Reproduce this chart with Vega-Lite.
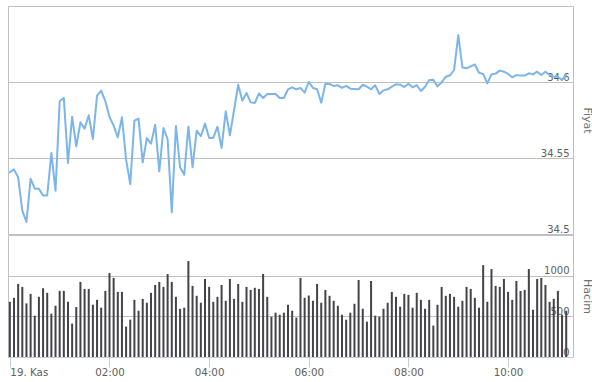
{
  "$schema": "https://vega.github.io/schema/vega-lite/v6.json",
  "padding": {"left": 7, "top": 5, "right": 0, "bottom": 0},
  "background": "white",
  "spacing": -1,
  "config": {
    "font": "DejaVu Sans",
    "view": {"stroke": "#C0C0C0"},
    "axis": {"labelOverlap": false, "labelBound": false}
  },
  "data": {"values": [
    {"t":"2024-11-19T00:00:00Z","p":34.5406,"v":679},
    {"t":"2024-11-19T00:05:00Z","p":34.5425,"v":728},
    {"t":"2024-11-19T00:10:00Z","p":34.5373,"v":898},
    {"t":"2024-11-19T00:15:00Z","p":34.5154,"v":862},
    {"t":"2024-11-19T00:20:00Z","p":34.5079,"v":659},
    {"t":"2024-11-19T00:25:00Z","p":34.5364,"v":776},
    {"t":"2024-11-19T00:30:00Z","p":34.5298,"v":508},
    {"t":"2024-11-19T00:35:00Z","p":34.5298,"v":740},
    {"t":"2024-11-19T00:40:00Z","p":34.5254,"v":846},
    {"t":"2024-11-19T00:45:00Z","p":34.5254,"v":789},
    {"t":"2024-11-19T00:50:00Z","p":34.5533,"v":533},
    {"t":"2024-11-19T00:55:00Z","p":34.5285,"v":630},
    {"t":"2024-11-19T01:00:00Z","p":34.5873,"v":813},
    {"t":"2024-11-19T01:05:00Z","p":34.5895,"v":813},
    {"t":"2024-11-19T01:10:00Z","p":34.5467,"v":679},
    {"t":"2024-11-19T01:15:00Z","p":34.5772,"v":411},
    {"t":"2024-11-19T01:20:00Z","p":34.5577,"v":614},
    {"t":"2024-11-19T01:25:00Z","p":34.5735,"v":923},
    {"t":"2024-11-19T01:30:00Z","p":34.5693,"v":837},
    {"t":"2024-11-19T01:35:00Z","p":34.5781,"v":837},
    {"t":"2024-11-19T01:40:00Z","p":34.5625,"v":642},
    {"t":"2024-11-19T01:45:00Z","p":34.591,"v":703},
    {"t":"2024-11-19T01:50:00Z","p":34.5943,"v":606},
    {"t":"2024-11-19T01:55:00Z","p":34.5873,"v":813},
    {"t":"2024-11-19T02:00:00Z","p":34.577,"v":1033},
    {"t":"2024-11-19T02:05:00Z","p":34.5713,"v":972},
    {"t":"2024-11-19T02:10:00Z","p":34.5636,"v":801},
    {"t":"2024-11-19T02:15:00Z","p":34.5768,"v":801},
    {"t":"2024-11-19T02:20:00Z","p":34.5489,"v":374},
    {"t":"2024-11-19T02:25:00Z","p":34.5329,"v":459},
    {"t":"2024-11-19T02:30:00Z","p":34.5746,"v":703},
    {"t":"2024-11-19T02:35:00Z","p":34.5759,"v":569},
    {"t":"2024-11-19T02:40:00Z","p":34.5471,"v":715},
    {"t":"2024-11-19T02:45:00Z","p":34.5632,"v":667},
    {"t":"2024-11-19T02:50:00Z","p":34.5594,"v":789},
    {"t":"2024-11-19T02:55:00Z","p":34.5719,"v":886},
    {"t":"2024-11-19T03:00:00Z","p":34.5412,"v":923},
    {"t":"2024-11-19T03:05:00Z","p":34.5697,"v":862},
    {"t":"2024-11-19T03:10:00Z","p":34.5625,"v":1020},
    {"t":"2024-11-19T03:15:00Z","p":34.5143,"v":923},
    {"t":"2024-11-19T03:20:00Z","p":34.5711,"v":740},
    {"t":"2024-11-19T03:25:00Z","p":34.5439,"v":593},
    {"t":"2024-11-19T03:30:00Z","p":34.539,"v":606},
    {"t":"2024-11-19T03:35:00Z","p":34.5706,"v":1179},
    {"t":"2024-11-19T03:40:00Z","p":34.5439,"v":874},
    {"t":"2024-11-19T03:45:00Z","p":34.568,"v":752},
    {"t":"2024-11-19T03:50:00Z","p":34.5643,"v":667},
    {"t":"2024-11-19T03:55:00Z","p":34.5726,"v":959},
    {"t":"2024-11-19T04:00:00Z","p":34.5632,"v":862},
    {"t":"2024-11-19T04:05:00Z","p":34.5632,"v":679},
    {"t":"2024-11-19T04:10:00Z","p":34.5706,"v":740},
    {"t":"2024-11-19T04:15:00Z","p":34.5566,"v":886},
    {"t":"2024-11-19T04:20:00Z","p":34.5807,"v":691},
    {"t":"2024-11-19T04:25:00Z","p":34.5649,"v":959},
    {"t":"2024-11-19T04:30:00Z","p":34.5816,"v":715},
    {"t":"2024-11-19T04:35:00Z","p":34.5982,"v":898},
    {"t":"2024-11-19T04:40:00Z","p":34.5877,"v":679},
    {"t":"2024-11-19T04:45:00Z","p":34.5928,"v":862},
    {"t":"2024-11-19T04:50:00Z","p":34.5866,"v":825},
    {"t":"2024-11-19T04:55:00Z","p":34.5862,"v":850},
    {"t":"2024-11-19T05:00:00Z","p":34.5925,"v":837},
    {"t":"2024-11-19T05:05:00Z","p":34.5895,"v":1020},
    {"t":"2024-11-19T05:10:00Z","p":34.5921,"v":740},
    {"t":"2024-11-19T05:15:00Z","p":34.5921,"v":496},
    {"t":"2024-11-19T05:20:00Z","p":34.5921,"v":545},
    {"t":"2024-11-19T05:25:00Z","p":34.5895,"v":520},
    {"t":"2024-11-19T05:30:00Z","p":34.5895,"v":545},
    {"t":"2024-11-19T05:35:00Z","p":34.5952,"v":642},
    {"t":"2024-11-19T05:40:00Z","p":34.5965,"v":569},
    {"t":"2024-11-19T05:45:00Z","p":34.5952,"v":484},
    {"t":"2024-11-19T05:50:00Z","p":34.5961,"v":972},
    {"t":"2024-11-19T05:55:00Z","p":34.593,"v":728},
    {"t":"2024-11-19T06:00:00Z","p":34.6,"v":756},
    {"t":"2024-11-19T06:05:00Z","p":34.5961,"v":691},
    {"t":"2024-11-19T06:10:00Z","p":34.5952,"v":898},
    {"t":"2024-11-19T06:15:00Z","p":34.5864,"v":667},
    {"t":"2024-11-19T06:20:00Z","p":34.5989,"v":825},
    {"t":"2024-11-19T06:25:00Z","p":34.5987,"v":752},
    {"t":"2024-11-19T06:30:00Z","p":34.5974,"v":691},
    {"t":"2024-11-19T06:35:00Z","p":34.5978,"v":630},
    {"t":"2024-11-19T06:40:00Z","p":34.5961,"v":520},
    {"t":"2024-11-19T06:45:00Z","p":34.5974,"v":459},
    {"t":"2024-11-19T06:50:00Z","p":34.5956,"v":545},
    {"t":"2024-11-19T06:55:00Z","p":34.5954,"v":654},
    {"t":"2024-11-19T07:00:00Z","p":34.5952,"v":947},
    {"t":"2024-11-19T07:05:00Z","p":34.5982,"v":593},
    {"t":"2024-11-19T07:10:00Z","p":34.5969,"v":435},
    {"t":"2024-11-19T07:15:00Z","p":34.5952,"v":935},
    {"t":"2024-11-19T07:20:00Z","p":34.5978,"v":508},
    {"t":"2024-11-19T07:25:00Z","p":34.5921,"v":496},
    {"t":"2024-11-19T07:30:00Z","p":34.5945,"v":593},
    {"t":"2024-11-19T07:35:00Z","p":34.5952,"v":667},
    {"t":"2024-11-19T07:40:00Z","p":34.5969,"v":801},
    {"t":"2024-11-19T07:45:00Z","p":34.5985,"v":740},
    {"t":"2024-11-19T07:50:00Z","p":34.5982,"v":618},
    {"t":"2024-11-19T07:55:00Z","p":34.5967,"v":776},
    {"t":"2024-11-19T08:00:00Z","p":34.5989,"v":764},
    {"t":"2024-11-19T08:05:00Z","p":34.5965,"v":606},
    {"t":"2024-11-19T08:10:00Z","p":34.598,"v":789},
    {"t":"2024-11-19T08:15:00Z","p":34.5941,"v":703},
    {"t":"2024-11-19T08:20:00Z","p":34.5969,"v":593},
    {"t":"2024-11-19T08:25:00Z","p":34.6013,"v":703},
    {"t":"2024-11-19T08:30:00Z","p":34.6015,"v":386},
    {"t":"2024-11-19T08:35:00Z","p":34.5971,"v":642},
    {"t":"2024-11-19T08:40:00Z","p":34.5998,"v":862},
    {"t":"2024-11-19T08:45:00Z","p":34.6035,"v":752},
    {"t":"2024-11-19T08:50:00Z","p":34.6044,"v":776},
    {"t":"2024-11-19T08:55:00Z","p":34.6079,"v":740},
    {"t":"2024-11-19T09:00:00Z","p":34.6309,"v":618},
    {"t":"2024-11-19T09:05:00Z","p":34.6096,"v":691},
    {"t":"2024-11-19T09:10:00Z","p":34.609,"v":862},
    {"t":"2024-11-19T09:15:00Z","p":34.6103,"v":837},
    {"t":"2024-11-19T09:20:00Z","p":34.6115,"v":728},
    {"t":"2024-11-19T09:25:00Z","p":34.6061,"v":606},
    {"t":"2024-11-19T09:30:00Z","p":34.6053,"v":1130},
    {"t":"2024-11-19T09:35:00Z","p":34.5991,"v":679},
    {"t":"2024-11-19T09:40:00Z","p":34.605,"v":1081},
    {"t":"2024-11-19T09:45:00Z","p":34.6055,"v":874},
    {"t":"2024-11-19T09:50:00Z","p":34.6075,"v":862},
    {"t":"2024-11-19T09:55:00Z","p":34.6068,"v":959},
    {"t":"2024-11-19T10:00:00Z","p":34.6053,"v":801},
    {"t":"2024-11-19T10:05:00Z","p":34.6031,"v":703},
    {"t":"2024-11-19T10:10:00Z","p":34.6046,"v":935},
    {"t":"2024-11-19T10:15:00Z","p":34.6042,"v":813},
    {"t":"2024-11-19T10:20:00Z","p":34.6042,"v":825},
    {"t":"2024-11-19T10:25:00Z","p":34.6057,"v":1081},
    {"t":"2024-11-19T10:30:00Z","p":34.605,"v":581},
    {"t":"2024-11-19T10:35:00Z","p":34.6068,"v":959},
    {"t":"2024-11-19T10:40:00Z","p":34.6046,"v":972},
    {"t":"2024-11-19T10:45:00Z","p":34.6068,"v":886},
    {"t":"2024-11-19T10:50:00Z","p":34.6046,"v":679},
    {"t":"2024-11-19T10:55:00Z","p":34.6035,"v":715},
    {"t":"2024-11-19T11:00:00Z","p":34.6033,"v":813},
    {"t":"2024-11-19T11:05:00Z","p":34.6015,"v":520},
    {"t":"2024-11-19T11:10:00Z","p":34.6046,"v":569}
  ]},
  "vconcat": [
    {
      "width": 565,
      "height": 228,
      "mark": {"type": "line", "color": "#7cb5ec", "strokeWidth": 2, "strokeJoin": "round", "strokeCap": "round"},
      "encoding": {
        "x": {"field": "t", "type": "temporal",
              "scale": {"type": "utc", "domain": [1731974266500, 1732015091000], "nice": false, "padding": 0},
              "axis": null},
        "y": {"field": "p", "type": "quantitative",
              "scale": {"domain": [34.5, 34.65], "nice": false, "zero": false},
              "axis": {"orient": "right", "values": [34.5, 34.55, 34.6],
                       "format": ".4~f",
                       "grid": true, "gridColor": "#C0C0C0", "gridWidth": 1,
                       "domain": false, "ticks": false, "tickSize": 0,
                       "labelAlign": "right", "labelPadding": -4, "labelBaseline": "alphabetic", "labelOffset": -2,
                       "labelColor": "#606060", "labelFontSize": 10,
                       "title": "Fiyat", "titleColor": "#707070", "titleFontSize": 11, "titleFontWeight": "normal",
                       "titleAngle": 90, "titleX": 13, "titleBaseline": "middle", "titleAlign": "center"}}
      }
    },
    {
      "width": 565,
      "height": 122,
      "mark": {"type": "bar", "color": "#434348", "size": 2},
      "encoding": {
        "x": {"field": "t", "type": "temporal",
              "scale": {"type": "utc", "domain": [1731974266500, 1732015091000], "nice": false, "padding": 0},
              "axis": {"values": [1731974400000, 1731981600000, 1731988800000, 1731996000000, 1732003200000, 1732010400000],
                       "labelExpr": "utchours(datum.value) == 0 ? '19. Kas' : utcFormat(datum.value, '%H:%M')",
                       "grid": false, "domainColor": "#C0D0E0", "tickColor": "#C0D0E0", "tickSize": 10,
                       "labelPadding": 0, "labelFlush": 3, "labelColor": "#606060", "labelFontSize": 10.3,
                       "title": null}},
        "y": {"field": "v", "type": "quantitative",
              "scale": {"domain": [0, 1500], "nice": false},
              "axis": {"orient": "right", "values": [0, 500, 1000],
                       "format": "d",
                       "grid": true, "gridColor": "#C0C0C0", "gridWidth": 1,
                       "domain": false, "ticks": false, "tickSize": 0,
                       "labelAlign": "right", "labelPadding": -4, "labelBaseline": "alphabetic", "labelOffset": -2,
                       "labelColor": "#606060", "labelFontSize": 10,
                       "title": "Hacim", "titleColor": "#707070", "titleFontSize": 11, "titleFontWeight": "normal",
                       "titleAngle": 90, "titleX": 13, "titleBaseline": "middle", "titleAlign": "center"}}
      }
    }
  ]
}
